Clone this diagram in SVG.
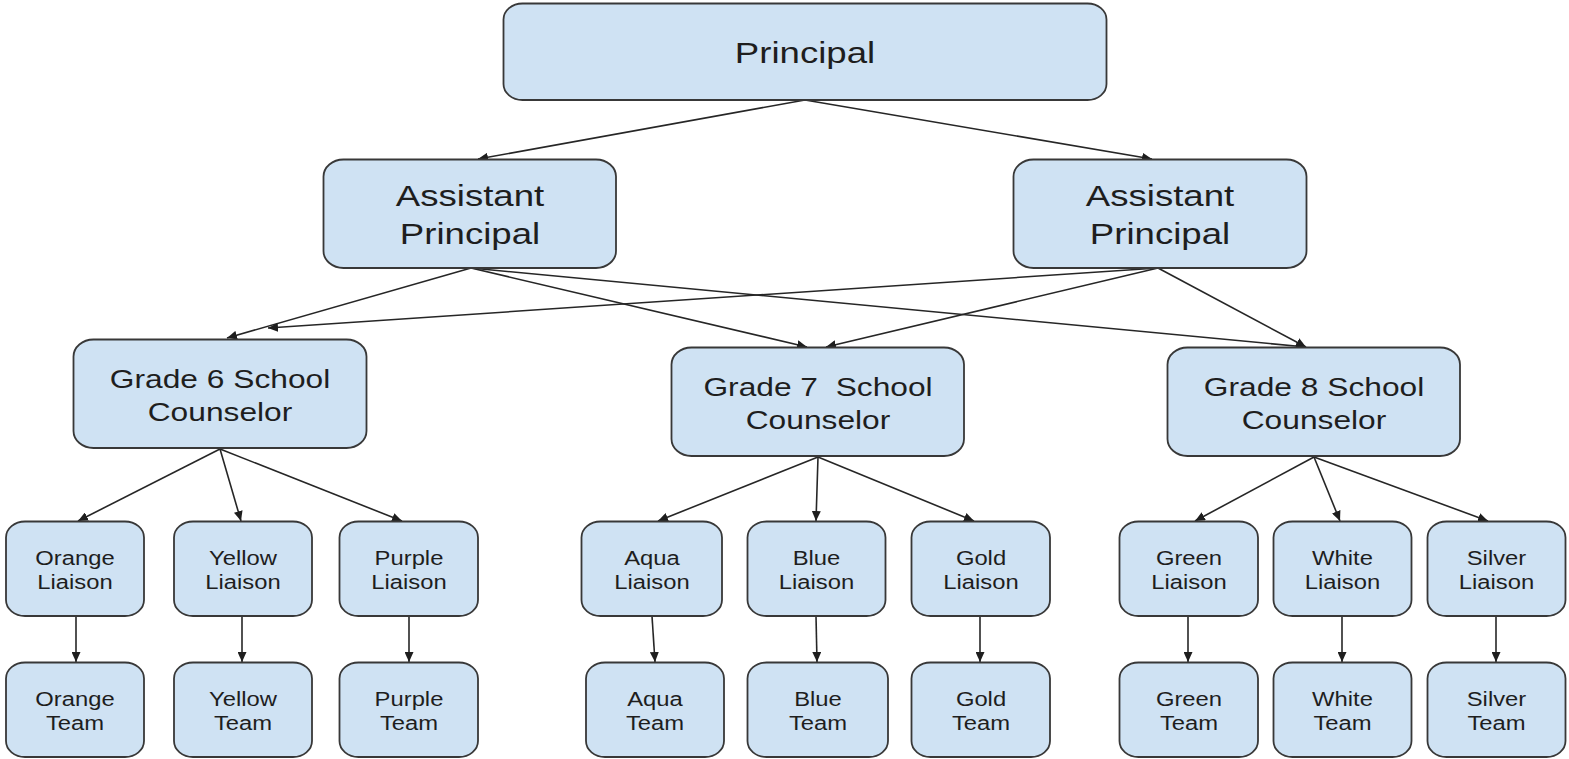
<svg xmlns="http://www.w3.org/2000/svg" width="1569" height="759" viewBox="0 0 1569 759">
<style>
  .box { fill: #cfe2f3; stroke: #383838; stroke-width: 1.8; }
  .t { font-family: "Liberation Sans", Arial, sans-serif; fill: #1e1e1e; text-anchor: middle; }
  .lg { font-size: 30px; }
  .md { font-size: 26px; }
  .sm { font-size: 20px; }
  .con line { stroke: #262626; stroke-width: 1.6; fill: none; marker-end: url(#arr); }
</style>
<defs>
  <marker id="arr" markerUnits="userSpaceOnUse" markerWidth="10" markerHeight="9" viewBox="0 0 10 9" refX="10" refY="4.5" orient="auto">
    <path d="M0,0 L10,4.5 L0,9 z" fill="#1e1e1e"/>
  </marker>
</defs>
<rect width="1569" height="759" fill="#ffffff"/>

<g id="connectors" class="con">
  <line x1="805" y1="100" x2="478" y2="159"/>
  <line x1="805" y1="100" x2="1152" y2="159"/>
  <line x1="471" y1="268" x2="227" y2="338"/>
  <line x1="471" y1="268" x2="807" y2="347"/>
  <line x1="471" y1="268" x2="1306" y2="347"/>
  <line x1="1158" y1="268" x2="268" y2="328"/>
  <line x1="1158" y1="268" x2="826" y2="347"/>
  <line x1="1158" y1="268" x2="1306" y2="347"/>
  <line x1="220" y1="449" x2="78" y2="521"/>
  <line x1="220" y1="449" x2="241" y2="521"/>
  <line x1="220" y1="449" x2="402" y2="521"/>
  <line x1="818" y1="457" x2="658" y2="521"/>
  <line x1="818" y1="457" x2="816" y2="521"/>
  <line x1="818" y1="457" x2="974" y2="521"/>
  <line x1="1314" y1="457" x2="1195" y2="521"/>
  <line x1="1314" y1="457" x2="1340" y2="521"/>
  <line x1="1314" y1="457" x2="1488" y2="521"/>
  <line x1="76" y1="616" x2="76" y2="662"/>
  <line x1="242" y1="616" x2="242" y2="662"/>
  <line x1="409" y1="616" x2="409" y2="662"/>
  <line x1="652" y1="616" x2="655" y2="662"/>
  <line x1="816" y1="616" x2="817" y2="662"/>
  <line x1="980" y1="616" x2="980" y2="662"/>
  <line x1="1188" y1="616" x2="1188" y2="662"/>
  <line x1="1342" y1="616" x2="1342" y2="662"/>
  <line x1="1496" y1="616" x2="1496" y2="662"/>
</g>

<g id="principal">
  <rect class="box" x="503.5" y="3.5" width="603" height="96.5" rx="19" ry="16"/>
  <text class="t lg" transform="matrix(1.22 0 0 1 805 0)" y="63.5">Principal</text>
</g>
<g id="ap-left">
  <rect class="box" x="323.5" y="159.5" width="292.5" height="108.5" rx="20" ry="17"/>
  <text class="t lg" transform="matrix(1.22 0 0 1 470 0)" y="206">Assistant</text>
  <text class="t lg" transform="matrix(1.22 0 0 1 470 0)" y="244.5">Principal</text>
</g>
<g id="ap-right">
  <rect class="box" x="1013.5" y="159.5" width="293" height="108.5" rx="20" ry="17"/>
  <text class="t lg" transform="matrix(1.22 0 0 1 1160 0)" y="206">Assistant</text>
  <text class="t lg" transform="matrix(1.22 0 0 1 1160 0)" y="244.5">Principal</text>
</g>

<g id="grade6">
  <rect class="box" x="73.5" y="339.5" width="293" height="108.5" rx="20" ry="17"/>
  <text class="t md" transform="matrix(1.22 0 0 1 220 0)" y="388.5">Grade 6 School</text>
  <text class="t md" transform="matrix(1.22 0 0 1 220 0)" y="421.5">Counselor</text>
</g>
<g id="grade7">
  <rect class="box" x="671.5" y="347.5" width="292.5" height="108.5" rx="20" ry="17"/>
  <text class="t md" transform="matrix(1.22 0 0 1 818 0)" y="396" xml:space="preserve">Grade 7  School</text>
  <text class="t md" transform="matrix(1.22 0 0 1 818 0)" y="429.5">Counselor</text>
</g>
<g id="grade8">
  <rect class="box" x="1167.5" y="347.5" width="292.5" height="108.5" rx="20" ry="17"/>
  <text class="t md" transform="matrix(1.22 0 0 1 1314 0)" y="396">Grade 8 School</text>
  <text class="t md" transform="matrix(1.22 0 0 1 1314 0)" y="429.5">Counselor</text>
</g>

<g id="orange-liaison">
  <rect class="box" x="6" y="521.5" width="138" height="94.5" rx="19" ry="16"/>
  <text class="t sm" transform="matrix(1.19 0 0 1 75 0)" y="565">Orange</text>
  <text class="t sm" transform="matrix(1.19 0 0 1 75 0)" y="589">Liaison</text>
</g>
<g id="yellow-liaison">
  <rect class="box" x="174" y="521.5" width="138" height="94.5" rx="19" ry="16"/>
  <text class="t sm" transform="matrix(1.19 0 0 1 243 0)" y="565">Yellow</text>
  <text class="t sm" transform="matrix(1.19 0 0 1 243 0)" y="589">Liaison</text>
</g>
<g id="purple-liaison">
  <rect class="box" x="339.5" y="521.5" width="138.5" height="94.5" rx="19" ry="16"/>
  <text class="t sm" transform="matrix(1.19 0 0 1 409 0)" y="565">Purple</text>
  <text class="t sm" transform="matrix(1.19 0 0 1 409 0)" y="589">Liaison</text>
</g>
<g id="aqua-liaison">
  <rect class="box" x="581.5" y="521.5" width="140.5" height="94.5" rx="19" ry="16"/>
  <text class="t sm" transform="matrix(1.19 0 0 1 652 0)" y="565">Aqua</text>
  <text class="t sm" transform="matrix(1.19 0 0 1 652 0)" y="589">Liaison</text>
</g>
<g id="blue-liaison">
  <rect class="box" x="747.5" y="521.5" width="138" height="94.5" rx="19" ry="16"/>
  <text class="t sm" transform="matrix(1.19 0 0 1 816.5 0)" y="565">Blue</text>
  <text class="t sm" transform="matrix(1.19 0 0 1 816.5 0)" y="589">Liaison</text>
</g>
<g id="gold-liaison">
  <rect class="box" x="911.5" y="521.5" width="138.5" height="94.5" rx="19" ry="16"/>
  <text class="t sm" transform="matrix(1.19 0 0 1 981 0)" y="565">Gold</text>
  <text class="t sm" transform="matrix(1.19 0 0 1 981 0)" y="589">Liaison</text>
</g>
<g id="green-liaison">
  <rect class="box" x="1119.5" y="521.5" width="138.5" height="94.5" rx="19" ry="16"/>
  <text class="t sm" transform="matrix(1.19 0 0 1 1189 0)" y="565">Green</text>
  <text class="t sm" transform="matrix(1.19 0 0 1 1189 0)" y="589">Liaison</text>
</g>
<g id="white-liaison">
  <rect class="box" x="1273.5" y="521.5" width="138" height="94.5" rx="19" ry="16"/>
  <text class="t sm" transform="matrix(1.19 0 0 1 1342.5 0)" y="565">White</text>
  <text class="t sm" transform="matrix(1.19 0 0 1 1342.5 0)" y="589">Liaison</text>
</g>
<g id="silver-liaison">
  <rect class="box" x="1427.5" y="521.5" width="138" height="94.5" rx="19" ry="16"/>
  <text class="t sm" transform="matrix(1.19 0 0 1 1496.5 0)" y="565">Silver</text>
  <text class="t sm" transform="matrix(1.19 0 0 1 1496.5 0)" y="589">Liaison</text>
</g>

<g id="orange-team">
  <rect class="box" x="6" y="662.5" width="138" height="94.5" rx="19" ry="16"/>
  <text class="t sm" transform="matrix(1.19 0 0 1 75 0)" y="706.5">Orange</text>
  <text class="t sm" transform="matrix(1.19 0 0 1 75 0)" y="730.5">Team</text>
</g>
<g id="yellow-team">
  <rect class="box" x="174" y="662.5" width="138" height="94.5" rx="19" ry="16"/>
  <text class="t sm" transform="matrix(1.19 0 0 1 243 0)" y="706.5">Yellow</text>
  <text class="t sm" transform="matrix(1.19 0 0 1 243 0)" y="730.5">Team</text>
</g>
<g id="purple-team">
  <rect class="box" x="339.5" y="662.5" width="138.5" height="94.5" rx="19" ry="16"/>
  <text class="t sm" transform="matrix(1.19 0 0 1 409 0)" y="706.5">Purple</text>
  <text class="t sm" transform="matrix(1.19 0 0 1 409 0)" y="730.5">Team</text>
</g>
<g id="aqua-team">
  <rect class="box" x="586" y="662.5" width="138" height="94.5" rx="19" ry="16"/>
  <text class="t sm" transform="matrix(1.19 0 0 1 655 0)" y="706.5">Aqua</text>
  <text class="t sm" transform="matrix(1.19 0 0 1 655 0)" y="730.5">Team</text>
</g>
<g id="blue-team">
  <rect class="box" x="747.5" y="662.5" width="140.5" height="94.5" rx="19" ry="16"/>
  <text class="t sm" transform="matrix(1.19 0 0 1 818 0)" y="706.5">Blue</text>
  <text class="t sm" transform="matrix(1.19 0 0 1 818 0)" y="730.5">Team</text>
</g>
<g id="gold-team">
  <rect class="box" x="911.5" y="662.5" width="138.5" height="94.5" rx="19" ry="16"/>
  <text class="t sm" transform="matrix(1.19 0 0 1 981 0)" y="706.5">Gold</text>
  <text class="t sm" transform="matrix(1.19 0 0 1 981 0)" y="730.5">Team</text>
</g>
<g id="green-team">
  <rect class="box" x="1119.5" y="662.5" width="138.5" height="94.5" rx="19" ry="16"/>
  <text class="t sm" transform="matrix(1.19 0 0 1 1189 0)" y="706.5">Green</text>
  <text class="t sm" transform="matrix(1.19 0 0 1 1189 0)" y="730.5">Team</text>
</g>
<g id="white-team">
  <rect class="box" x="1273.5" y="662.5" width="138" height="94.5" rx="19" ry="16"/>
  <text class="t sm" transform="matrix(1.19 0 0 1 1342.5 0)" y="706.5">White</text>
  <text class="t sm" transform="matrix(1.19 0 0 1 1342.5 0)" y="730.5">Team</text>
</g>
<g id="silver-team">
  <rect class="box" x="1427.5" y="662.5" width="138" height="94.5" rx="19" ry="16"/>
  <text class="t sm" transform="matrix(1.19 0 0 1 1496.5 0)" y="706.5">Silver</text>
  <text class="t sm" transform="matrix(1.19 0 0 1 1496.5 0)" y="730.5">Team</text>
</g>
</svg>
